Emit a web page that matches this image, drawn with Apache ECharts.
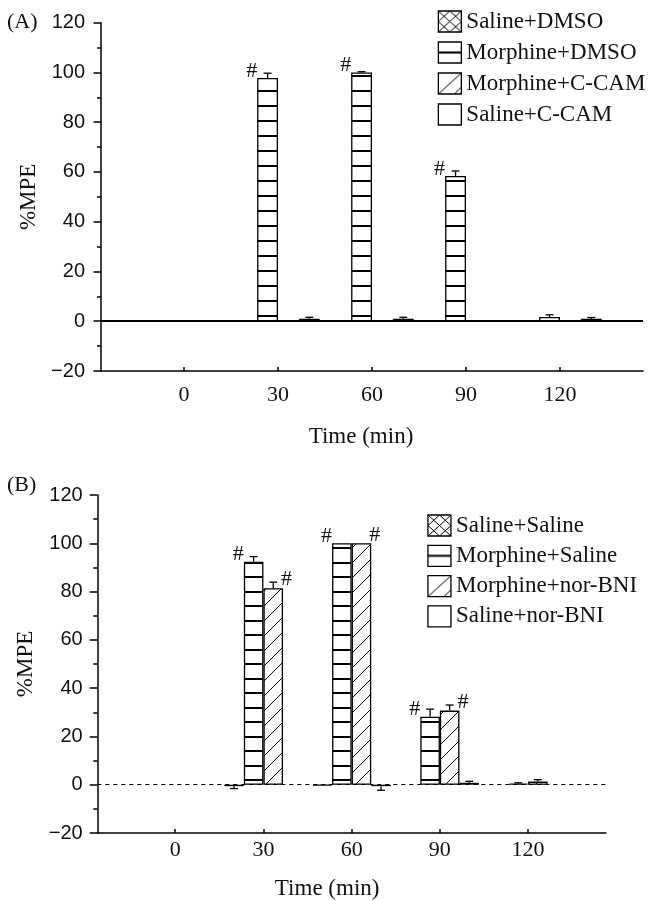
<!DOCTYPE html>
<html>
<head>
<meta charset="utf-8">
<title>%MPE time course</title>
<script src="https://cdn.jsdelivr.net/npm/echarts@6/dist/echarts.min.js"></script>
<style>
  html, body { margin: 0; padding: 0; background: #fff; }
  #chart { width: 650px; height: 901px; }
</style>
</head>
<body>
<div id="chart"></div>
<script>
// time points (min)
const times = [0, 30, 60, 90, 120];

// panel A
const namesA = ['Saline+DMSO', 'Morphine+DMSO', 'Morphine+C-CAM', 'Saline+C-CAM'];
const salineDmso = [0, 0, 0, 0, 0];
const salineDmsoErr = [0, 0, 0, 0, 0];
const morphineDmso = [0, 97.8, 100, 58.4, 1.7];
const morphineDmsoErr = [0, 1.9, 0.3, 2, 0.9];
const morphineCcam = [0, 0, 0, 0.5, 0];
const morphineCcamErr = [0, 0, 0, 0, 0];
const salineCcam = [0, 1, 1, 0, 1];
const salineCcamErr = [0, 0.6, 0.6, 0, 0.5];
const morphineDmsoSig = [0, 1, 1, 1, 0];

// panel B
const namesB = ['Saline+Saline', 'Morphine+Saline', 'Morphine+nor-BNI', 'Saline+nor-BNI'];
const salineSaline = [null, -0.6, -0.4, null, null];
const salineSalineErr = [0, 1, 0, 0, 0];
const morphineSaline = [null, 92.4, 100, 28.2, 0.5];
const morphineSalineErr = [0, 2.1, 0, 3.1, 0.3];
const morphineNorbni = [null, 81.4, 100, 30.7, 1.3];
const morphineNorbniErr = [0, 2.5, 0, 2.3, 0.8];
const salineNorbni = [null, null, -0.6, 0.8, null];
const salineNorbniErr = [0, 0, 1.7, 0.6, 0];
const morphineSalineSig = [0, 1, 1, 1, 0];
const morphineNorbniSig = [0, 1, 1, 1, 0];

const SERIF = 'Liberation Serif';
const SANS = 'Liberation Sans';
const INK = '#111';
const BAR_FRAC = 0.222;   // bar width as part of the 30-min band

// fill patterns
function tile(w, h, draw) {
  const c = document.createElement('canvas');
  c.width = w; c.height = h;
  const ctx = c.getContext('2d');
  ctx.fillStyle = '#fff';
  ctx.fillRect(0, 0, w, h);
  ctx.fillStyle = '#000';
  ctx.strokeStyle = '#000';
  ctx.lineWidth = 1;
  draw(ctx, w, h);
  return { image: c, repeat: 'repeat' };
}
const crossFill = tile(10, 10, (ctx) => {
  ctx.beginPath();
  ctx.moveTo(-1, -1); ctx.lineTo(11, 11);
  ctx.moveTo(-1, 11); ctx.lineTo(11, -1);
  ctx.stroke();
});
const horizFillA = tile(4, 15, (ctx) => ctx.fillRect(0, 0, 4, 2));
const horizFillB = tile(4, 29, (ctx) => { ctx.fillRect(0, 11, 4, 2); ctx.fillRect(0, 25, 4, 2); });
const diagFill = tile(15, 15, (ctx) => {
  ctx.beginPath();
  ctx.moveTo(-2, 17); ctx.lineTo(17, -2);
  ctx.moveTo(-2, 2); ctx.lineTo(2, -2);
  ctx.moveTo(13, 17); ctx.lineTo(17, 13);
  ctx.stroke();
});

// legend icons 23x21
const iconCross = tile(23, 21, (ctx, w, h) => {
  ctx.beginPath();
  ctx.moveTo(0, 0); ctx.lineTo(w, h);
  ctx.moveTo(w, 0); ctx.lineTo(0, h);
  ctx.moveTo(w / 2, 0); ctx.lineTo(w, h / 2); ctx.lineTo(w / 2, h); ctx.lineTo(0, h / 2); ctx.closePath();
  ctx.stroke();
});
const iconHoriz = tile(23, 21, (ctx, w) => ctx.fillRect(0, 9.5, w, 2));
const iconDiag = tile(23, 21, (ctx, w, h) => {
  ctx.beginPath();
  ctx.moveTo(0, h); ctx.lineTo(w, 0);
  ctx.moveTo(16, h); ctx.lineTo(w, 14);
  ctx.stroke();
});
const iconEmpty = '#fff';

function pairs(vals) {
  return times.map((t, i) => [t, vals[i]]);
}

function errRender(slot) {
  return function (params, api) {
    const x = api.value(0), y = api.value(1), e = api.value(2);
    const p = api.coord([x, y]);
    const bw = api.size([30, 0])[0] * BAR_FRAC;
    const cx = p[0] + (slot - 1.5) * bw;
    const q = api.coord([x, y < 0 ? y - e : y + e]);
    const st = { stroke: '#000', lineWidth: 1.3 };
    return {
      type: 'group',
      children: [
        { type: 'line', shape: { x1: cx, y1: p[1], x2: cx, y2: q[1] }, style: st },
        { type: 'line', shape: { x1: cx - 4, y1: q[1], x2: cx + 4, y2: q[1] }, style: st }
      ]
    };
  };
}

function hashRender(slot, side) {
  return function (params, api) {
    const x = api.value(0), y = api.value(1);
    const p = api.coord([x, y]);
    const bw = api.size([30, 0])[0] * BAR_FRAC;
    const left = p[0] + (slot - 2) * bw;
    return {
      type: 'text',
      x: side < 0 ? left : left + bw - 2,
      y: p[1] - (side < 0 ? 7 : 8.5),
      style: {
        text: '#', font: '22px "' + SERIF + '"', fill: INK,
        align: side < 0 ? 'right' : 'left', verticalAlign: 'middle'
      }
    };
  };
}

function panelSeries(g, names, vals, errs, fills, sigs, zeroLine) {
  const out = [];
  names.forEach((name, s) => {
    const bar = {
      name: name, type: 'bar', xAxisIndex: g, yAxisIndex: g,
      barWidth: (BAR_FRAC * 100) + '%', barGap: '0%',
      itemStyle: { color: fills[s], borderColor: '#000', borderWidth: 1.3 },
      data: pairs(vals[s])
    };
    if (s === 0) {
      bar.markLine = {
        silent: true, symbol: ['none', 'none'], label: { show: false },
        lineStyle: zeroLine, data: [{ yAxis: 0 }]
      };
    }
    out.push(bar);
    const ed = [];
    times.forEach((t, i) => {
      if (vals[s][i] != null && errs[s][i] > 0) ed.push([t, vals[s][i], errs[s][i]]);
    });
    out.push({
      type: 'custom', xAxisIndex: g, yAxisIndex: g, z: 3,
      encode: { x: 0, y: 1 }, renderItem: errRender(s), data: ed
    });
  });
  sigs.forEach((sg) => {
    const hd = [];
    times.forEach((t, i) => { if (sg.flags[i]) hd.push([t, vals[sg.slot][i]]); });
    out.push({
      type: 'custom', xAxisIndex: g, yAxisIndex: g, z: 4,
      encode: { x: 0, y: 1 }, renderItem: hashRender(sg.slot, sg.side), data: hd
    });
  });
  return out;
}

const axisLine = { color: '#000', width: 1.5 };

function xAxis(g, gap, shift, labelMargin) {
  return {
    gridIndex: g, type: 'value', min: -26.5, max: 146.5,
    axisLine: { onZero: false, lineStyle: axisLine },
    axisTick: { inside: true, length: 4, customValues: times, lineStyle: axisLine },
    axisLabel: { customValues: times, margin: labelMargin, fontFamily: SERIF, fontSize: 22, color: INK },
    splitLine: { show: false },
    name: 'Time (min)', nameLocation: 'middle', nameGap: gap,
    nameTextStyle: { fontFamily: SERIF, fontSize: 23, color: INK, padding: [0, shift, 0, 0] }
  };
}

function yAxis(g, gap, labelMargin) {
  return {
    gridIndex: g, type: 'value', min: -20, max: 120, interval: 20,
    axisLine: { show: true, onZero: false, lineStyle: axisLine },
    axisTick: { show: true, length: 7.5, lineStyle: axisLine },
    minorTick: { show: true, splitNumber: 2, length: 4, lineStyle: axisLine },
    axisLabel: {
      margin: labelMargin, fontFamily: SANS, fontSize: 20, color: INK,
      formatter: (v) => String(v).replace('-', '\u2212')
    },
    splitLine: { show: false },
    name: '%MPE', nameLocation: 'middle', nameGap: gap,
    nameTextStyle: { fontFamily: SERIF, fontSize: 23, color: INK }
  };
}

function legend(names, icons, left, top, gap) {
  return {
    orient: 'vertical', left: left, top: top, padding: 0,
    itemWidth: 23, itemHeight: 21, itemGap: gap,
    selectedMode: false, icon: 'rect',
    itemStyle: { borderColor: '#000', borderWidth: 1.3 },
    textStyle: { fontFamily: SERIF, fontSize: 23, color: INK, lineHeight: 21 },
    data: names.map((n, i) => ({ name: n, itemStyle: { color: icons[i] } }))
  };
}

const chart = echarts.init(document.getElementById('chart'));

const option = {
  animation: false,
  backgroundColor: '#fff',
  title: [
    { text: '(A)', left: 7, top: 11, padding: 0, textStyle: { fontFamily: SERIF, fontSize: 22, fontWeight: 'normal', color: INK } },
    { text: '(B)', left: 7, top: 474, padding: 0, textStyle: { fontFamily: SERIF, fontSize: 22, fontWeight: 'normal', color: INK } }
  ],
  legend: [
    legend(namesA, [iconCross, iconHoriz, iconDiag, iconEmpty], 437.7, 10, 8),
    legend(namesB, [iconCross, iconHoriz, iconDiag, iconEmpty], 427.3, 514, 7.3)
  ],
  grid: [
    { left: 101, right: 7, top: 22.7, bottom: 530 },
    { left: 97.3, right: 44, top: 495, bottom: 66.7 }
  ],
  xAxis: [xAxis(0, 54, 22, 13), xAxis(1, 44, 49, 6)],
  yAxis: [yAxis(0, 57, 16), yAxis(1, 53, 14.6)],
  series: [].concat(
    panelSeries(0, namesA,
      [salineDmso, morphineDmso, morphineCcam, salineCcam],
      [salineDmsoErr, morphineDmsoErr, morphineCcamErr, salineCcamErr],
      [crossFill, horizFillA, diagFill, '#fff'],
      [{ slot: 1, side: -1, flags: morphineDmsoSig }],
      { color: '#000', width: 2.2, type: 'solid' }),
    panelSeries(1, namesB,
      [salineSaline, morphineSaline, morphineNorbni, salineNorbni],
      [salineSalineErr, morphineSalineErr, morphineNorbniErr, salineNorbniErr],
      [crossFill, horizFillB, diagFill, '#fff'],
      [{ slot: 1, side: -1, flags: morphineSalineSig }, { slot: 2, side: 1, flags: morphineNorbniSig }],
      { color: '#000', width: 1, type: [4, 4] })
  )
};

chart.setOption(option);
</script>
</body>
</html>
